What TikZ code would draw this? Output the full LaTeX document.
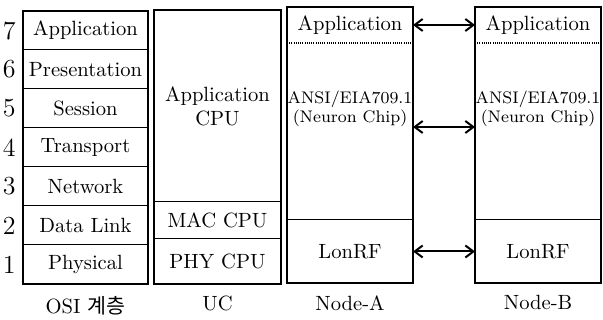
\documentclass[tikz,border=0pt]{standalone}
\usepackage{fontspec}
\newfontfamily\krfont{Noto Sans CJK KR}
\usetikzlibrary{positioning,arrows.meta}
\tikzset{
    layer/.style = {draw, rectangle, line width=0.5pt, outer sep=0pt, inner sep=0pt,
        minimum width=62.5pt, minimum height=19.5pt, align=center,
        font=\fontsize{10.3}{12}\selectfont},
    part/.style = {rectangle, outer sep=0pt, inner sep=0pt,
        minimum width=63pt, align=center, font=\fontsize{10.3}{12}\selectfont},
    chip/.style = {inner sep=0pt, align=center, font=\fontsize{8.4}{9.5}\selectfont},
    frame/.style = {draw, line width=0.9pt},
    num/.style = {inner sep=0pt, font=\fontsize{13}{15}\selectfont},
    caption/.style = {inner sep=0pt, font=\fontsize{10.3}{12}\selectfont},
    link/.style = {draw, line width=1pt,
        {Straight Barb[length=4pt,width=6pt]}-{Straight Barb[length=4pt,width=6pt]}}
}

\begin{document}
\begin{tikzpicture}
    \useasboundingbox (0,0) rectangle (301.5pt,160pt);
    % OSI layers
    \node [layer, name=osi1] at (42.75pt,27.75pt) {Physical};
    \foreach \a/\txt [evaluate=\a as \prev using int(\a-1)] in {2/Data Link,3/Network,4/Transport,5/Session,6/Presentation,7/Application}{
        \node [layer, above=0pt of osi\prev] (osi\a) {\txt};
    }
    \foreach \a in {1,...,7}{
        \node [num, left=3.5pt of osi\a] (no\a) {\a};
    }
    \draw [frame] (osi7.north west) rectangle (osi1.south east);
    \node [caption, below=6pt of osi1] (osicap) {OSI {\krfont 계층}};
    % UC
    \node [part, draw, line width=0.5pt, minimum width=63.5pt, minimum height=22.5pt] (phy) at (108.75pt,29.25pt) {PHY CPU};
    \node [part, draw, line width=0.5pt, minimum width=63.5pt, minimum height=18.5pt, above=0pt of phy] (mac) {MAC CPU};
    \node [part, draw, line width=0.5pt, minimum width=63.5pt, minimum height=96pt, above=0pt of mac] (appcpu) {Application\\CPU};
    \draw [frame] (appcpu.north west) rectangle (phy.south east);
    \node [caption, below=6pt of phy] (uccap) {UC};
    % Node-A, Node-B
    \foreach \n/\x in {A/175pt,B/269pt}{
        \node [part, minimum height=31.5pt] (lon\n) at (\x,34.25pt) {LonRF};
        \node [part, minimum height=88.5pt, above=0pt of lon\n] (neu\n) {};
        \node [part, minimum height=18pt, above=0pt of neu\n] (app\n) {Application};
        \node [chip, below=24pt of app\n.south] (ansi\n) {ANSI/EIA709.1\\(Neuron Chip)};
        \draw [frame] (app\n.north west) rectangle (lon\n.south east);
        \draw [line width=0.6pt, dash pattern=on 0.5pt off 0.6pt] (app\n.south west) -- (app\n.south east);
        \draw [line width=0.5pt] (lon\n.north west) -- (lon\n.north east);
        \node [caption, below=6pt of lon\n] (cap\n) {Node-\n};
    }
    \draw [link] (appA) -- (appB);
    \draw [link] ([yshift=2.25pt]neuA.east) -- ([yshift=2.25pt]neuB.west);
    \draw [link] (lonA) -- (lonB);
\end{tikzpicture}
\end{document}
